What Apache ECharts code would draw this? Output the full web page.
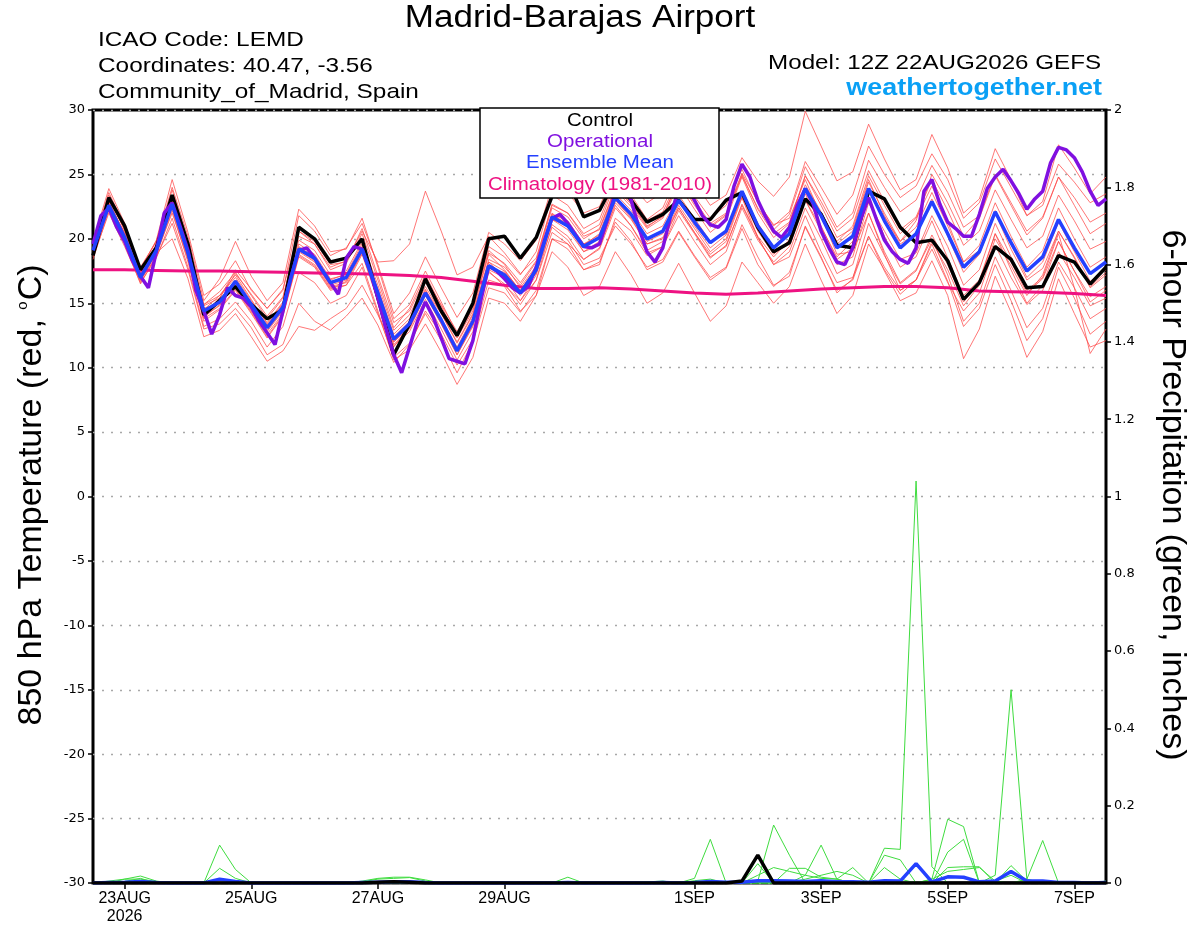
<!DOCTYPE html>
<html>
<head>
<meta charset="utf-8">
<title>Madrid-Barajas Airport GEFS</title>
<script src="https://cdn.jsdelivr.net/npm/echarts@6.0.0/dist/echarts.min.js"></script>
<style>
  html, body { margin: 0; padding: 0; background: #fff; }
  #container { width: 1200px; height: 927px; }
</style>
</head>
<body>
<div id="container"></div>
<script>
// 6-hourly steps from 12Z 22AUG2026 (hour 0) to hour 384
var tickHours = [12, 60, 108, 156, 228, 276, 324, 372];
var tickLabels = ['23AUG\n2026', '25AUG', '27AUG', '29AUG', '1SEP', '3SEP', '5SEP', '7SEP'];

// 850 hPa temperature, deg C
var control = [18.7,23.2,21.0,17.6,19.3,23.4,19.6,14.1,
  15.2,16.3,14.9,13.8,14.5,20.9,20.0,18.2,
  18.5,20.0,15.4,11.0,13.4,16.9,14.4,12.5,
  15.0,20.0,20.2,18.5,20.1,23.3,24.6,21.7,
  22.2,24.6,23.0,21.3,21.9,23.0,21.5,21.5,
  23.0,23.6,20.9,19.0,19.7,23.1,21.9,19.5,
  19.3,23.7,23.1,20.9,19.7,19.9,18.3,15.3,
  16.6,19.4,18.4,16.2,16.3,18.7,18.2,16.5,
  17.8];
var ensMean = [19.1,22.6,20.1,17.0,19.1,22.7,18.9,14.4,
  15.1,16.7,14.9,13.1,14.7,19.2,18.5,16.6,
  17.0,19.2,15.8,12.2,13.4,15.8,13.7,11.3,
  13.6,17.9,17.2,15.8,17.6,21.7,21.0,19.4,
  20.1,23.2,21.9,20.0,20.6,23.0,21.3,19.7,
  20.6,23.7,21.0,19.3,20.4,23.9,21.8,19.3,
  20.2,23.9,21.4,19.3,20.4,22.9,20.4,17.8,
  19.0,22.1,19.7,17.5,18.6,21.5,19.3,17.3,
  18.2];
// operational run is 3-hourly
var operational = [19.6,21.8,22.4,20.9,19.8,18.3,17.1,16.2,19.0,22.0,22.8,21.0,19.1,16.0,14.4,12.6,
  14.1,16.2,15.6,15.4,14.7,13.6,12.7,11.8,14.4,17.0,19.1,19.3,18.5,17.5,16.6,15.7,
  18.5,19.4,19.2,17.5,15.4,13.1,11.0,9.6,11.6,13.6,15.1,13.9,12.3,10.7,10.5,10.3,
  12.1,15.2,17.9,17.5,16.9,16.2,15.8,16.3,17.8,19.8,21.6,21.9,21.2,20.3,19.4,19.3,
  19.6,21.5,23.6,24.5,23.0,20.8,19.0,18.2,19.3,21.8,23.9,24.3,23.0,21.8,21.1,20.9,
  21.5,24.1,25.8,24.8,23.0,21.7,20.6,20.1,20.9,22.6,23.9,22.7,20.6,19.3,18.2,18.0,
  19.3,21.5,23.2,21.5,19.9,19.0,18.4,18.1,19.3,23.7,24.6,22.7,21.3,20.8,20.2,20.2,
  21.9,23.9,24.8,25.4,24.5,23.5,22.3,23.1,23.7,25.9,27.1,26.9,26.3,25.2,23.7,22.6,
  23.1];
// climatology is 12-hourly
var climatology = [17.6,17.6,17.55,17.5,17.5,17.45,17.4,17.35,17.3,17.25,17.15,17.0,16.7,16.4,16.15,16.15,
  16.2,16.1,15.95,15.8,15.7,15.8,15.95,16.1,16.2,16.3,16.3,16.2,15.95,15.9,15.85,15.75,15.6];

// ensemble members
var m01 = [19.8,23.9,21.2,17.6,19.9,24.6,20.5,15.6,16.5,18.3,16.0,14.6,16.0,21.8,20.6,18.7,19.3,21.2,18.0,14.2,15.8,18.6,16.2,13.9,15.8,20.5,19.6,18.3,19.9,24.1,23.6,22.0,22.5,25.4,24.2,22.8,23.6,26.0,24.4,22.6,23.4,26.3,24.5,23.3,24.8,29.9,27.2,24.5,25.2,28.9,26.2,23.8,24.6,28.1,25.5,22.0,23.1,27.0,24.6,21.8,22.9,27.3,25.5,23.5,24.8];
var m02 = [18.6,22.0,19.4,16.6,18.5,21.6,17.8,13.2,13.8,15.1,13.6,11.6,13.2,17.4,16.6,15.0,15.6,17.8,14.2,10.8,11.9,14.2,12.1,9.6,12.0,16.2,15.8,14.3,16.0,20.0,19.2,17.6,18.2,21.3,19.8,17.6,18.2,20.5,18.6,16.8,17.7,20.8,18.0,16.3,17.4,20.9,18.5,16.0,16.8,20.2,17.5,15.2,15.8,18.3,15.6,10.7,13.0,17.1,14.3,10.8,12.8,16.9,14.2,11.6,12.1];
var m03 = [19.5,23.4,20.6,17.3,19.6,23.8,19.8,14.9,15.9,17.4,15.6,13.8,15.4,20.6,19.6,17.6,18.1,20.4,16.8,13.1,14.6,17.2,14.8,12.3,14.4,18.8,17.6,15.9,17.3,20.9,19.9,18.0,18.5,21.0,19.6,17.8,18.4,20.6,18.7,17.0,17.8,21.1,18.6,16.4,17.1,21.0,18.6,15.8,16.9,21.2,18.7,16.5,17.5,20.3,18.0,15.1,16.6,20.4,18.2,15.8,16.9,19.8,17.5,15.5,16.3];
var m04 = [18.4,22.2,19.8,16.8,18.6,21.2,17.6,13.0,13.4,14.6,13.1,11.0,11.8,15.0,13.6,12.9,14.0,15.4,13.3,10.4,11.8,14.4,12.6,10.2,12.2,16.8,16.4,15.2,17.2,21.5,21.0,19.5,20.4,23.8,22.5,20.8,21.6,24.2,22.3,20.5,21.5,24.8,22.0,20.1,21.2,24.9,22.6,20.1,20.8,24.6,21.8,19.6,20.4,23.1,20.2,17.4,18.8,22.0,19.2,16.8,17.7,20.6,18.5,16.2,17.2];
var m05 = [18.9,22.8,20.0,17.1,18.9,20.0,16.9,12.4,12.9,14.2,12.4,10.5,11.3,13.2,12.9,13.8,14.6,16.4,14.1,11.6,13.3,16.0,14.2,12.0,14.2,18.2,17.0,15.2,16.8,20.5,19.6,17.6,18.0,21.6,20.6,18.7,19.4,22.2,20.4,18.5,19.5,22.6,20.1,18.0,19.0,22.4,20.0,17.3,18.0,22.0,19.0,16.6,17.6,20.0,17.2,13.6,15.0,18.6,16.0,13.1,14.6,18.2,16.2,13.8,14.6];
var m06 = [19.3,22.9,20.4,17.4,19.3,22.4,18.5,14.2,15.4,17.3,15.7,14.0,15.5,20.2,19.6,17.8,18.3,20.6,18.2,18.3,19.6,23.7,20.6,17.2,17.8,20.2,18.9,17.3,18.5,22.6,22.0,20.2,20.7,23.9,22.7,20.9,21.8,24.5,22.8,21.0,21.9,25.0,22.3,20.4,21.3,24.9,22.9,20.6,21.6,25.3,22.9,20.7,21.7,24.6,22.2,19.5,20.6,23.8,21.5,19.3,20.2,23.4,21.4,19.2,19.8];
var m07 = [19.0,22.4,19.9,16.9,19.0,22.9,19.2,14.6,15.0,16.2,14.4,12.6,14.2,18.8,18.0,16.2,16.4,18.1,14.4,10.6,11.4,13.4,11.2,8.7,10.8,15.4,15.0,13.6,15.6,20.0,19.6,18.4,19.3,22.8,21.5,19.6,20.0,22.4,20.5,18.6,19.4,22.7,20.2,18.6,19.9,23.8,22.0,19.8,21.0,24.9,22.6,20.4,21.6,24.1,21.3,18.2,19.1,22.2,19.6,17.0,18.2,21.3,19.0,16.7,17.6];
var m08 = [19.6,23.1,20.7,17.8,19.8,23.4,19.4,14.9,15.6,17.0,15.2,13.5,15.1,19.9,19.1,17.2,17.5,19.8,16.4,12.9,14.1,16.6,14.6,12.4,14.6,18.9,18.1,16.6,18.3,22.7,22.0,20.4,21.1,24.4,23.2,21.4,22.1,24.7,23.0,21.2,22.0,25.1,22.9,21.0,22.1,26.0,24.0,21.9,23.4,27.2,25.0,23.2,24.1,26.6,24.6,21.6,22.8,26.2,24.0,21.8,22.6,25.8,24.4,22.8,23.5];
var m09 = [18.8,22.3,19.6,16.5,18.7,22.2,18.2,13.6,14.5,16.0,14.2,12.3,14.0,18.6,17.8,16.0,16.4,18.8,15.2,11.7,12.8,15.3,13.0,10.6,12.8,17.4,16.5,14.9,16.8,21.1,20.2,18.4,19.2,22.4,21.0,19.1,19.8,22.4,20.5,18.8,19.8,23.2,20.6,18.8,19.9,23.5,21.0,18.4,19.3,23.2,20.2,17.8,18.6,21.4,18.5,15.6,16.8,20.4,17.6,15.0,16.4,19.8,17.5,15.1,16.0];
var m10 = [19.2,22.7,20.3,17.2,19.4,23.2,19.3,14.8,15.4,17.6,16.1,14.6,16.1,20.6,19.8,18.0,18.2,20.8,17.1,13.5,14.4,16.9,14.9,12.8,15.0,19.4,18.6,17.2,19.0,23.4,22.6,20.8,21.5,24.6,23.4,21.5,22.4,25.2,23.3,21.6,22.6,25.4,22.8,21.1,21.6,24.6,21.8,18.8,19.0,22.0,18.8,16.0,16.8,19.6,16.7,13.2,14.6,18.0,15.2,12.1,13.8,17.8,15.4,12.6,13.6];
var m11 = [19.4,23.0,20.2,16.8,19.0,22.6,18.7,14.0,14.8,16.5,14.6,12.8,14.4,19.0,18.2,16.3,16.6,18.9,15.4,11.8,13.0,15.6,13.4,11.0,13.2,17.5,16.3,14.4,15.6,19.0,17.8,15.6,16.3,19.0,17.2,15.0,15.8,18.1,15.8,13.6,14.8,18.2,16.6,15.0,16.3,19.6,16.8,14.2,15.6,19.6,17.6,15.7,16.8,19.8,17.6,14.8,16.4,20.0,17.9,15.6,17.2,20.6,18.6,16.3,17.4];
var m12 = [19.7,23.6,21.0,17.7,19.8,24.0,20.2,15.2,16.9,19.8,17.1,15.2,16.6,22.3,21.0,19.0,19.2,21.6,17.8,13.8,14.9,17.5,15.1,12.6,14.8,19.1,18.0,16.2,17.9,22.0,21.0,19.0,19.5,22.6,21.0,18.9,19.4,21.8,19.8,18.0,19.0,22.4,19.9,18.2,19.4,23.0,20.9,18.6,19.8,23.8,21.7,19.8,21.4,25.0,22.8,20.2,21.6,24.9,22.6,20.3,21.6,24.8,22.6,20.4,21.2];
var m13 = [18.7,22.5,20.0,16.9,18.8,22.5,18.6,13.8,14.6,16.1,14.3,12.4,14.1,18.7,17.9,16.1,16.7,19.0,15.6,12.0,13.1,15.9,13.6,11.5,13.5,17.7,17.4,16.0,17.6,21.9,21.4,19.6,20.0,23.0,21.6,19.6,20.1,22.6,20.8,19.0,20.0,23.4,20.8,18.9,19.6,23.0,20.6,18.0,18.6,22.8,20.6,18.4,18.9,21.8,19.4,16.4,17.6,21.2,18.6,16.0,17.0,20.4,16.2,11.1,13.0];
var m14 = [19.0,22.6,20.5,17.5,19.5,23.0,19.0,14.3,15.2,16.8,15.0,13.3,14.9,19.6,18.8,16.9,17.2,19.4,16.1,12.6,13.8,16.3,14.2,11.9,14.1,18.4,17.8,16.4,18.2,22.4,21.7,20.0,20.8,24.0,22.8,21.0,21.7,24.6,22.6,20.9,21.8,24.9,22.4,20.7,21.9,25.6,23.3,20.9,22.0,26.1,24.0,22.1,23.0,25.7,23.6,20.9,21.8,25.0,22.8,20.6,21.7,24.8,23.2,21.3,22.0];
var m15 = [19.3,22.8,20.4,17.2,19.2,22.8,18.8,14.5,15.6,17.2,15.3,13.4,15.0,19.4,18.6,16.8,17.3,19.6,16.0,12.4,13.6,16.1,13.8,11.6,13.9,18.2,17.5,16.0,17.8,21.8,21.2,19.6,20.3,23.5,22.2,20.4,21.0,23.4,21.6,19.8,20.4,23.2,20.1,18.0,18.6,21.8,19.0,16.6,17.0,20.2,17.8,16.0,16.8,19.2,16.6,14.4,15.8,19.5,17.0,14.9,16.0,19.0,17.0,14.8,15.4];
var m16 = [18.9,22.4,19.9,16.7,18.9,22.0,18.4,13.9,14.9,16.4,14.7,12.9,14.5,19.1,18.3,16.4,16.8,19.1,15.7,12.0,13.2,15.7,13.4,11.0,13.3,17.6,17.0,15.6,17.4,21.5,20.7,19.0,19.8,23.0,21.7,19.8,20.4,23.0,21.0,19.3,20.3,23.6,21.2,19.4,20.6,24.2,22.1,19.6,20.6,24.4,22.0,19.8,20.9,23.6,21.0,18.2,19.5,22.8,20.2,17.8,19.1,22.4,20.0,17.8,18.6];
var members = [m01, m02, m03, m04, m05, m06, m07, m08, m09, m10, m11, m12, m13, m14, m15, m16];

// 6-hour precipitation, inches
var p01 = [0,0,0.01,0.018,0.005,0,0,0, 0.098,0.035,0,0,0,0,0,0, 0,0,0,0,0,0,0,0, 0,0,0,0,0,0,0,0, 0,0,0,0,0,0,0,0, 0,0,0,0,0,0,0,0, 0,0,0.09,0.087,1.04,0.042,0,0, 0,0,0,0,0,0,0,0, 0];
var p02 = [0,0,0,0,0,0,0,0, 0.038,0.012,0,0,0,0,0,0, 0,0.005,0.012,0.015,0.015,0.008,0,0, 0,0,0,0,0,0,0,0, 0,0,0,0,0,0,0,0, 0,0,0.005,0.15,0.072,0,0,0, 0,0,0,0,0,0,0,0, 0,0.02,0.5,0.01,0,0,0,0, 0];
var p03 = [0,0,0.004,0.012,0,0,0,0, 0,0,0,0,0,0,0,0, 0,0,0,0,0,0,0,0, 0,0,0,0,0,0,0.015,0, 0,0,0,0,0,0,0.012,0.113, 0,0,0,0,0,0,0,0, 0,0,0,0,0,0.01,0.165,0.146, 0,0,0,0,0,0,0,0, 0];
var p04 = [0,0,0,0,0,0,0,0, 0,0,0,0,0,0,0,0, 0,0,0,0,0,0,0,0, 0,0,0,0,0,0,0,0, 0,0,0,0,0,0,0,0, 0,0,0.05,0,0,0.02,0.098,0.01, 0,0,0,0,0,0,0.08,0.113, 0,0,0,0,0,0,0,0, 0.005];
var p05 = [0,0,0,0,0,0,0,0, 0,0,0,0,0,0,0,0, 0,0,0,0,0,0,0,0, 0,0,0,0,0,0,0,0, 0,0,0,0.003,0.005,0,0,0, 0,0,0,0,0.038,0.038,0.015,0.01, 0.04,0,0,0,0,0,0,0, 0,0,0,0.01,0.11,0,0,0, 0];
var p06 = [0,0,0,0,0,0,0,0, 0,0,0,0,0,0,0,0, 0,0.003,0.01,0.012,0.014,0.005,0,0, 0,0,0,0,0,0,0,0, 0,0,0,0,0,0,0,0, 0,0,0,0,0,0,0,0, 0,0,0.072,0.06,0,0,0.04,0.042, 0.042,0,0.045,0.005,0,0,0,0, 0];
var p07 = [0,0,0,0,0,0,0,0, 0,0,0,0,0,0,0,0, 0,0,0,0,0,0,0,0, 0,0,0,0,0,0,0,0, 0,0,0,0,0,0,0.006,0.01, 0,0,0.02,0.04,0.03,0.02,0.012,0.01, 0,0,0.04,0.01,0,0,0,0, 0,0.005,0.02,0,0,0,0,0, 0];
var p08 = [0,0.005,0.01,0.01,0.004,0,0,0, 0.01,0.004,0,0,0,0,0,0, 0,0,0,0,0,0,0,0, 0,0,0,0,0,0,0,0, 0,0,0,0,0,0,0,0, 0,0,0,0,0,0.01,0.02,0.03, 0.02,0,0,0,0,0.01,0.03,0.035, 0.04,0.005,0,0,0,0,0.003,0, 0.004];
var precipMembers = [p01, p02, p03, p04, p05, p06, p07, p08];
var precipControl = [0,0,0,0,0,0,0,0, 0,0,0,0,0,0,0,0, 0,0,0.002,0.003,0.002,0,0,0, 0,0,0,0,0,0,0,0, 0,0,0,0,0,0,0,0, 0,0.005,0.072,0,0,0,0,0, 0,0,0,0,0,0,0,0, 0,0,0,0,0,0,0,0, 0];
var precipMean = [0,0.001,0.002,0.004,0.001,0,0,0, 0.01,0.004,0,0,0,0,0,0, 0,0.001,0.002,0.003,0.003,0.001,0,0, 0,0,0,0,0,0,0.001,0, 0,0,0,0,0.001,0,0.001,0.004, 0.002,0.002,0.006,0.006,0.005,0.004,0.006,0.003, 0.003,0.002,0.006,0.005,0.05,0.003,0.016,0.015, 0.003,0.005,0.03,0.005,0.005,0.001,0.001,0, 0.001];

var FONT = '"Liberation Sans", Arial, sans-serif';
var COL_OPER = '#8010e0', COL_MEAN = '#2440ff', COL_CLIMO = '#ee1282';

function pairs(arr, step) {
  var out = [];
  for (var i = 0; i < arr.length; i++) out.push([i * step, arr[i]]);
  return out;
}
function line(data, color, width, yIdx, z, opacity) {
  return {
    type: 'line', data: data, yAxisIndex: yIdx, z: z,
    symbol: 'none', silent: true, animation: false,
    lineStyle: { color: color, width: width, opacity: opacity == null ? 1 : opacity }
  };
}
function label(text, x, y, size, color, align, sx, bold) {
  return {
    type: 'text', x: x, y: y, scaleX: sx || 1, z: 100,
    style: {
      text: text, fill: color, fontSize: size, fontFamily: FONT,
      fontWeight: bold ? 'bold' : 'normal',
      align: align, verticalAlign: 'middle', textAlign: align, textVerticalAlign: 'middle'
    }
  };
}

var series = [];
for (var k = 0; k < precipMembers.length; k++) series.push(line(pairs(precipMembers[k], 6), '#3fdc3f', 1, 1, 2));
for (var n = 0; n < members.length; n++) series.push(line(pairs(members[n], 6), '#ff4a4a', 1, 0, 3, 0.75));
series.push(line(pairs(climatology, 12), COL_CLIMO, 3, 0, 4));
series.push(line(pairs(control, 6), '#000', 3.5, 0, 5));
series.push(line(pairs(operational, 3), COL_OPER, 3.5, 0, 6));
series.push(line(pairs(ensMean, 6), COL_MEAN, 3.5, 0, 7));
series.push(line(pairs(precipMean, 6), COL_MEAN, 3.5, 1, 7));
series.push(line(pairs(precipControl, 6), '#000', 3.5, 1, 7));

var option = {
  backgroundColor: '#fff',
  animation: false,
  grid: { left: 93, right: 94, top: 110, bottom: 44, show: true, borderColor: '#000', borderWidth: 3, backgroundColor: 'transparent' },
  xAxis: {
    type: 'value', min: 0, max: 384, position: 'bottom',
    axisLine: { show: false, onZero: false },
    splitLine: { show: false },
    axisTick: { customValues: tickHours, length: 6, lineStyle: { color: '#000', width: 1.5 } },
    axisLabel: {
      customValues: tickHours, margin: 7, color: '#000', fontSize: 16, fontFamily: FONT, lineHeight: 18,
      formatter: function (v) { var i = tickHours.indexOf(v); return i < 0 ? '' : tickLabels[i]; }
    }
  },
  yAxis: [{
    type: 'value', min: -30, max: 30, interval: 5, position: 'left',
    axisLine: { show: false, onZero: false },
    axisTick: { show: true, length: 5, lineStyle: { color: '#000', width: 1.5 } },
    axisLabel: { color: '#000', fontSize: 13, fontFamily: '"DejaVu Sans", sans-serif', margin: 8 },
    splitLine: { show: true, lineStyle: { color: '#a8a8a8', width: 1.3, type: [2, 7] } }
  }, {
    type: 'value', min: 0, max: 2, interval: 0.2, position: 'right',
    axisLine: { show: false, onZero: false },
    axisTick: { show: true, length: 5, lineStyle: { color: '#000', width: 1.5 } },
    axisLabel: { color: '#000', fontSize: 13, fontFamily: '"DejaVu Sans", sans-serif', margin: 8,
      formatter: function (v) { return String(+v.toFixed(1)); } },
    splitLine: { show: false }
  }],
  series: series,
  graphic: [
    label('Madrid-Barajas Airport', 580, 18, 31, '#000', 'center', 1.13),
    label('ICAO Code: LEMD', 98, 40, 21, '#000', 'left', 1.16),
    label('Coordinates: 40.47, -3.56', 98, 66, 21, '#000', 'left', 1.16),
    label('Community_of_Madrid, Spain', 98, 92, 21, '#000', 'left', 1.16),
    label('Model: 12Z 22AUG2026 GEFS', 1101, 63, 21, '#000', 'right', 1.15),
    label('weathertogether.net', 1102, 89, 23, '#0aa0f5', 'right', 1.17, true),
    { type: 'rect', z: 100, shape: { x: 480, y: 108, width: 239, height: 90 },
      style: { fill: '#fff', stroke: '#000', lineWidth: 1.5 } },
    label('Control', 600, 121, 17.5, '#000', 'center', 1.17),
    label('Operational', 600, 142, 17.5, COL_OPER, 'center', 1.17),
    label('Ensemble Mean', 600, 163, 17.5, COL_MEAN, 'center', 1.17),
    label('Climatology (1981-2010)', 600, 185, 17.5, COL_CLIMO, 'center', 1.17),
    { type: 'text', x: 32, y: 495, rotation: Math.PI / 2, z: 100,
      style: { text: '850 hPa Temperature (red, {s|o}C)', fill: '#000', fontSize: 34, fontFamily: FONT,
        align: 'center', verticalAlign: 'middle', textAlign: 'center', textVerticalAlign: 'middle',
        rich: { s: { fontSize: 15, fontFamily: FONT, verticalAlign: 'top', padding: [0, 1, 14, 0] } } } },
    { type: 'text', x: 1172, y: 495, rotation: -Math.PI / 2, z: 100,
      style: { text: '6-hour Precipitation (green, inches)', fill: '#000', fontSize: 34, fontFamily: FONT,
        align: 'center', verticalAlign: 'middle', textAlign: 'center', textVerticalAlign: 'middle' } }
  ]
};

var chart = echarts.init(document.getElementById('container'), null, { renderer: 'canvas' });
chart.setOption(option);
</script>
</body>
</html>
